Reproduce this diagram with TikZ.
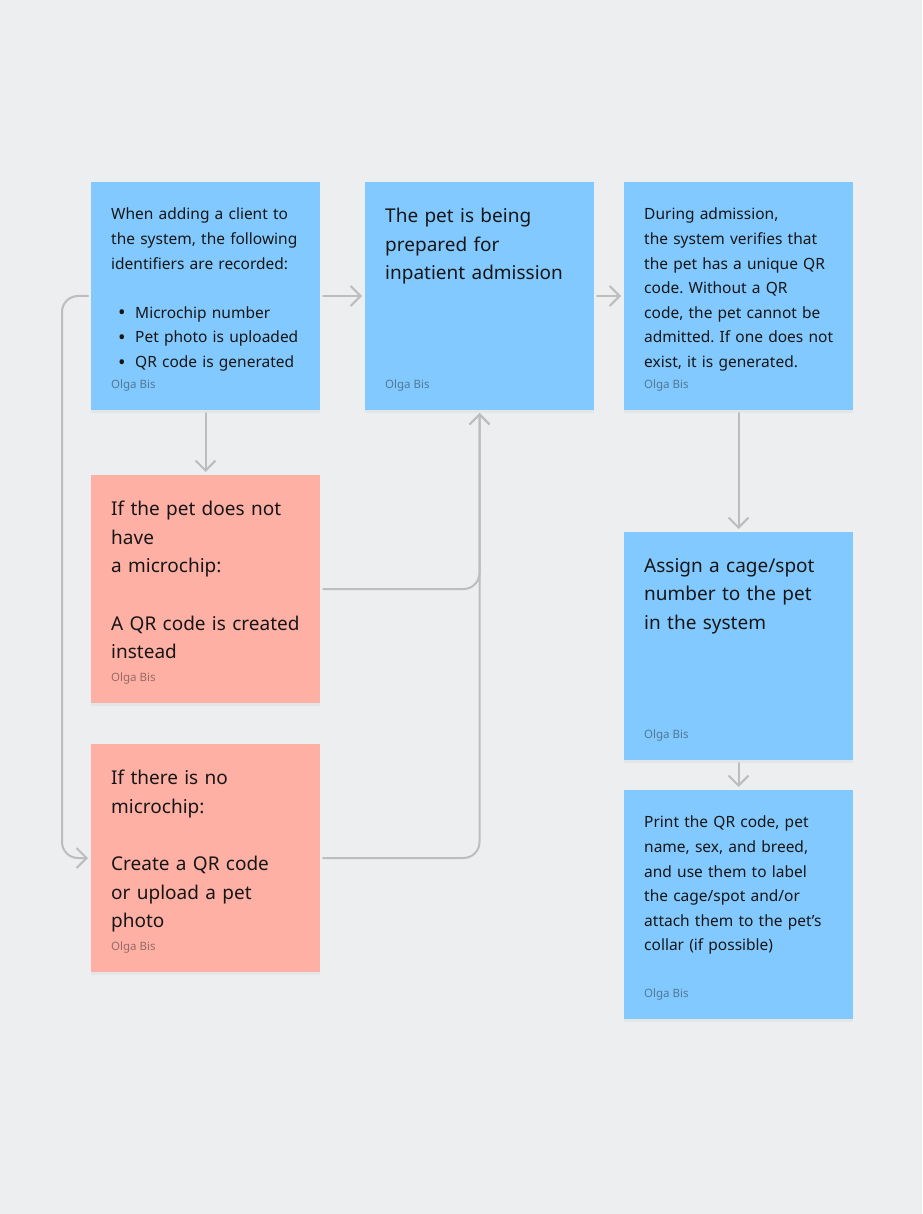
\documentclass[tikz,border=0pt]{standalone}
\usepackage{fontspec}
\setmainfont{Noto Sans}
\usetikzlibrary{arrows.meta,positioning,shadows}
\definecolor{canvas}{HTML}{EDEEF0}
\definecolor{noteblue}{HTML}{82C9FF}
\definecolor{notered}{HTML}{FFB0A5}
\definecolor{inktext}{HTML}{161616}
\definecolor{linkgray}{HTML}{BDBDBD}
\newcommand{\bitem}{\makebox[24pt][l]{\hspace{7pt}\raisebox{-1.6pt}{\fontsize{20}{24}\selectfont\textbullet}}}
\frenchspacing

\begin{document}
\begin{tikzpicture}[
  x=1pt, y=-1pt,
  note/.style={minimum width=229pt, minimum height=228pt, inner sep=0pt, outer sep=0pt,
    drop shadow={shadow xshift=0pt, shadow yshift=-3pt, opacity=0.08}},
  blue note/.style={note, fill=noteblue},
  red note/.style={note, fill=notered},
  body/.style={anchor=north west, inner sep=0pt, text width=205pt, align=left, text=inktext,
    font=\fontsize{15.5}{24.6}\selectfont},
  big/.style={body, font=\fontsize{19}{28.6}\selectfont},
  author/.style={inner sep=0pt, font=\fontsize{11.5}{13}\selectfont, text=inktext, text opacity=0.45},
  link/.style={draw=linkgray, line width=2pt, line cap=round, rounded corners=16pt,
    -{Straight Barb[length=10pt, width=20pt, line width=2pt]}}
]
\fill[canvas] (0,0) rectangle (922,1214);
\useasboundingbox (0,0) rectangle (922,1214);

% notes
\node[blue note] (a) at (205.5,296) {};
\node[blue note, right=45pt of a] (b) {};
\node[blue note, right=30pt of b] (c) {};
\node[red note, below=65pt of a] (d) {};
\node[red note, below=41pt of d] (e) {};
\node[blue note, below=122pt of c] (f) {};
\node[blue note, minimum height=229pt, below=30pt of f] (g) {};

% texts
\node[body, below right=26pt and 20pt of a.north west] (a-txt)
  {When adding a client to\\the system, the following\\identifiers are recorded:\\[24.6pt]
   \bitem Microchip number\\\bitem Pet photo is uploaded\\\bitem QR code is generated};
\node[big, below right=26pt and 20pt of b.north west] (b-txt)
  {The pet is being\\prepared for\\inpatient admission};
\node[body, below right=26pt and 20pt of c.north west] (c-txt)
  {During admission,\\the system verifies that\\the pet has a unique QR\\code. Without a QR\\code, the pet cannot be\\admitted. If one does not\\exist, it is generated.};
\node[big, below right=26pt and 20pt of d.north west] (d-txt)
  {If the pet does not\\have\\a microchip:\\[28.6pt]A QR code is created\\instead};
\node[big, below right=26pt and 20pt of e.north west] (e-txt)
  {If there is no\\microchip:\\[28.6pt]Create a QR code\\or upload a pet\\photo};
\node[big, below right=26pt and 20pt of f.north west] (f-txt)
  {Assign a cage/spot\\number to the pet\\in the system};
\node[body, below right=26pt and 20pt of g.north west] (g-txt)
  {Print the QR code, pet\\name, sex, and breed,\\and use them to label\\the cage/spot and/or\\attach them to the pet’s\\collar (if possible)};

% authors
\foreach \n in {a,b,c,d,e,f,g}
  \node[author, above right=19pt and 20pt of \n.south west] (\n-by) {Olga Bis};

% connectors
\draw[link] ([xshift=3pt]a.east) -- ([xshift=-3pt]b.west);
\draw[link] ([xshift=3pt]b.east) -- ([xshift=-3pt]c.west);
\draw[link] ([yshift=-3pt]a.south) -- ([yshift=3pt]d.north);
\draw[link] ([yshift=-3pt]c.south) -- ([yshift=3pt]f.north);
\draw[link] ([yshift=-3pt]f.south) -- ([yshift=3pt]g.north);
\draw[link] ([xshift=3pt]d.east) -| ([yshift=-3pt]b.south);
\draw[link] ([xshift=3pt]e.east) -| ([yshift=-3pt]b.south);
\draw[link] ([xshift=-3pt]a.west) -- ++(-26,0) |- ([xshift=-3pt]e.west);

\end{tikzpicture}
\end{document}
